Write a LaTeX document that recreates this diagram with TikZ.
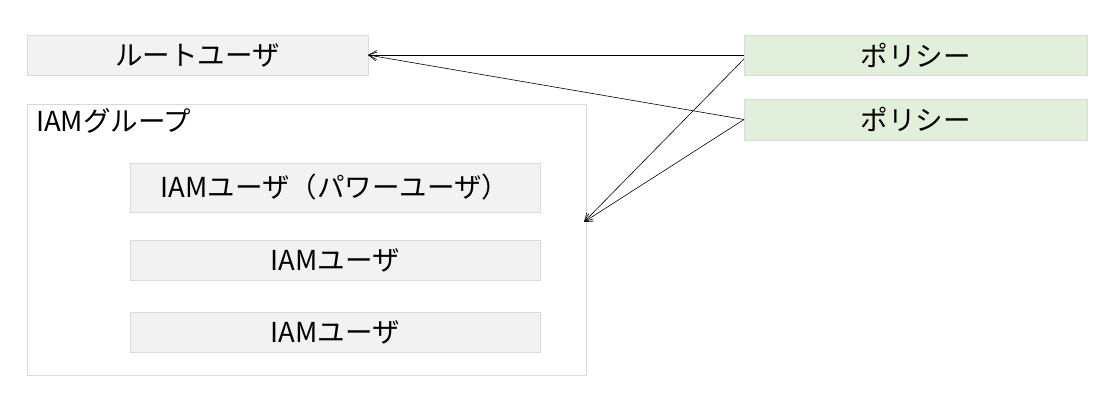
\documentclass[tikz,border=0pt]{standalone}
\usepackage{fontspec}
\setmainfont{Noto Sans CJK JP}
\usetikzlibrary{arrows,arrows.meta,positioning}
\definecolor{boxgray}{HTML}{F2F2F2}
\definecolor{linegray}{HTML}{D9D9D9}
\definecolor{palegreen}{HTML}{E2EFDA}

\begin{document}
\begin{tikzpicture}[x=1pt,y=-1pt,inner sep=0pt,outer sep=0pt,
	font=\fontsize{27.5}{31}\selectfont,
	userbox/.style={draw=linegray,fill=boxgray,line width=0.8pt},
	policybox/.style={draw=linegray,fill=palegreen,line width=0.8pt},
	groupbox/.style={draw=linegray,fill=white,line width=0.8pt},
	>={Straight Barb[length=8pt,width=9pt]}, draw=black]

\useasboundingbox (0,0) rectangle (1105,401);

\node[userbox,minimum width=341pt,minimum height=40pt]    	(root) at (197.5,55)    {ルートユーザ};
\node[policybox,minimum width=343pt,minimum height=40pt]  	(pol1) at (915.5,55)    {ポリシー};
\node[policybox,minimum width=343pt,minimum height=41pt]  	(pol2) at (915.5,119.5) {ポリシー};

\node[groupbox,minimum width=559pt,minimum height=271pt]  	(grp) at (306.5,239.5)  {};
\node[anchor=west]                                        	(grplbl) at (36,121)    {IAMグループ};

\node[userbox,minimum width=410pt,minimum height=49pt]    	(usr1) at (335,187.5)   {IAMユーザ（パワーユーザ）};
\node[userbox,minimum width=410pt,minimum height=40pt]    	(usr2) at (335,260)     {IAMユーザ};
\node[userbox,minimum width=410pt,minimum height=40pt]    	(usr3) at (335,332)     {IAMユーザ};

\coordinate (grpin) at (584,222);
\coordinate (pol1low) at (744,59);

\foreach \f/\t in {% start node/end node
	 pol1.west/root.east,
	 pol2.west/root.east,
	 pol1low/grpin,
	 pol2.west/grpin}
	\path[->,line width=0.6pt]  (\f) edge node {} (\t);

\end{tikzpicture}
\end{document}
